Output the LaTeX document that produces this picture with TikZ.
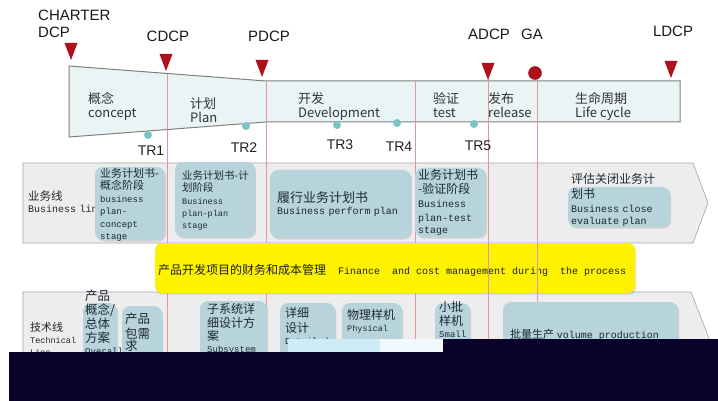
\documentclass[tikz,border=0pt]{standalone}
\usepackage{fontspec}
\setmainfont{Liberation Sans}
\setmonofont{Liberation Mono}
\newfontfamily\cjk{Noto Sans CJK SC}
\usetikzlibrary{shadows}
\setlength{\parindent}{0pt}
\lineskiplimit=-20pt
\definecolor{dcpred}{RGB}{176,16,26}
\definecolor{phasefill}{RGB}{233,244,245}
\definecolor{gateline}{RGB}{226,150,158}
\definecolor{trteal}{RGB}{122,196,196}
\definecolor{bandfill}{RGB}{237,237,237}
\definecolor{boxfill}{RGB}{183,211,220}
\definecolor{boxtext}{RGB}{28,40,52}
\definecolor{glitch}{RGB}{10,2,42}
\newcommand{\zhf}[2]{\cjk\fontsize{#1}{#2}\selectfont}
\newcommand{\enf}[2]{\ttfamily\fontsize{#1}{#2}\selectfont}

\begin{document}
\begin{tikzpicture}[x=1pt, y=-1pt,
    band/.style={draw=black!35, fill=bandfill, line width=0.6pt},
    gate/.style={draw=gateline, line width=0.6pt},
    bizbox/.style={rounded corners=8pt, fill=boxfill, inner sep=0pt,
      drop shadow={shadow xshift=1.2pt, shadow yshift=-1.5pt, opacity=0.25}},
    costbox/.style={rounded corners=7pt, fill=yellow, inner sep=0pt,
      drop shadow={shadow xshift=1pt, shadow yshift=-1.5pt, opacity=0.25}},
    boxtxt/.style={anchor=north west, inner sep=0pt, align=left, text width=160pt, text=boxtext},
    phase/.style={anchor=north west, inner sep=0pt, align=left, text=black!80,
      font=\zhf{13}{14.5}},
    dcplabel/.style={inner sep=0pt, text=black!90, font=\fontsize{15}{17.5}\selectfont},
    trdot/.style={circle, fill=trteal, minimum size=8pt, inner sep=0pt},
    trlabel/.style={inner sep=0pt, text=black!88, font=\fontsize{14}{16}\selectfont},
    gadot/.style={circle, fill=dcpred, draw=dcpred!70!black, minimum size=13pt, inner sep=0pt}]

    \fill [white] (0,0) rectangle (718,401);
    \useasboundingbox (0,0) rectangle (718,401);

    \draw [band] (23,163) -- (693,163) -- (708,203) -- (693,243) -- (23,243) -- cycle;
    \draw [band] (23,292) -- (691,292) -- (712,346) -- (691,400) -- (23,400) -- cycle;

    \draw [draw=black!50, fill=phasefill, line width=1pt]
        (69,66) -- (266,81) -- (680,81) -- (680,122) -- (266,122) -- (69,137) -- cycle;

    \foreach \x/\y in {167/74, 266/81, 415/81}
        \draw [gate] (\x,\y) -- (\x,401);

    \node [costbox, minimum width=480pt, minimum height=50pt] (cost) at (395,268) {};
    \node [anchor=west, inner sep=0pt, text=black!88] (costtxt) at (158,270)
        {{\zhf{12}{14}产品开发项目的财务和成本管理}{\enf{10}{14}~~Finance~~and cost management during~~the process}};

    \foreach \x/\y in {488/79, 537/79}
        \draw [gate] (\x,\y) -- (\x,401);

    \node [phase] (concept) at (88,92) {概念\\concept};
    \node [phase] (plan) at (190,97) {计划\\Plan};
    \node [phase] (develop) at (298,92) {开发\\Development};
    \node [phase] (test) at (433,92) {验证\\test};
    \node [phase] (release) at (488,92) {发布\\release};
    \node [phase] (life) at (575,92) {生命周期\\Life cycle};

    \node [boxtxt, text=black!85] (bizline) at (28,190.5)
        {\zhf{11.5}{16}业务线\\\enf{10}{16}Business line};
    \node [boxtxt, text=black!85] (techline) at (30,322)
        {\zhf{11}{12}技术线\\\enf{8.5}{12}Technical\\Line};

    \node [bizbox, minimum width=70pt, minimum height=73pt] (bpconcept) at (130,203.5) {};
    \node [bizbox, minimum width=80pt, minimum height=75pt] (bpplan) at (215,199.5) {};
    \node [bizbox, minimum width=141pt, minimum height=68pt] (bpperform) at (340.5,204) {};
    \node [bizbox, minimum width=71pt, minimum height=69pt] (bptest) at (450.5,202.5) {};
    \node [bizbox, minimum width=102pt, minimum height=40pt] (bpclose) at (619,207) {};

    \node [boxtxt] (bpconcepttxt) at (100,168)
        {\zhf{11}{12.5}业务计划书-\\概念阶段\\\enf{9}{12.5}business\\plan-\\concept\\stage};
    \node [boxtxt] (bpplantxt) at (182,170)
        {\zhf{10.5}{12.5}业务计划书-计\\划阶段\\\enf{8.5}{12.5}Business\\plan-plan\\stage};
    \node [boxtxt] (bpperformtxt) at (277,191)
        {\zhf{13}{15}履行业务计划书\\\enf{10}{15}Business perform plan};
    \node [boxtxt] (bptesttxt) at (418,169.5)
        {\zhf{12}{14}业务计划书\\-验证阶段\\\enf{10}{14}Business\\plan-test\\stage};
    \node [boxtxt] (bpclosetxt) at (571,173.5)
        {\zhf{12}{14.5}评估关闭业务计\\划书\\\enf{10}{14.5}Business close\\evaluate plan};

    \node [bizbox, minimum width=34pt, minimum height=97pt] (tconcept) at (100,351.5) {};
    \node [bizbox, minimum width=40pt, minimum height=94pt] (treq) at (142,353) {};
    \node [bizbox, minimum width=67pt, minimum height=99pt] (tsub) at (233.5,350.5) {};
    \node [bizbox, minimum width=55pt, minimum height=97pt] (tdetail) at (307.5,351.5) {};
    \node [bizbox, minimum width=60pt, minimum height=97pt] (tproto) at (372,351.5) {};
    \node [bizbox, minimum width=35pt, minimum height=97pt] (tbatch) at (452.5,351.5) {};
    \node [bizbox, minimum width=175pt, minimum height=98pt] (tvolume) at (590.5,351) {};

    \node [boxtxt] (tconcepttxt) at (85,290)
        {\zhf{12.5}{14}产品\\概念/\\总体\\方案\\\enf{9}{14}Overall};
    \node [boxtxt] (treqtxt) at (125,313)
        {\zhf{12.5}{14.5}产品\\包需\\求};
    \node [boxtxt] (tsubtxt) at (207,303.5)
        {\zhf{12}{13.5}子系统详\\细设计方\\案\\\enf{9}{13.5}Subsystem};
    \node [boxtxt] (tdetailtxt) at (285,307.5)
        {\zhf{12}{15}详细\\设计\\\enf{9}{15}Detailed};
    \node [boxtxt] (tprototxt) at (347,309.5)
        {\zhf{12}{16.5}物理样机\\\enf{8.5}{16.5}Physical};
    \node [boxtxt] (tbatchtxt) at (439,301.5)
        {\zhf{12}{14}小批\\样机\\\enf{9}{14}Small};
    \node [anchor=west, inner sep=0pt, text=boxtext] (tvolumetxt) at (510,335)
        {{\zhf{11}{13}批量生产} {\enf{10}{13}volume production}};

    \foreach \x/\y in {71/43, 166/54, 262/60, 488/63, 671/61}
        \fill [dcpred] (\x-6.5,\y) -- (\x+6.5,\y) -- (\x,\y+17) -- cycle;
    \node [gadot] (ga) at (535,73) {};

    \node [dcplabel, anchor=north west, align=left] (charter) at (38,9.5) {CHARTER\\DCP};
    \node [dcplabel] (cdcp) at (168,36) {CDCP};
    \node [dcplabel] (pdcp) at (269,36) {PDCP};
    \node [dcplabel] (adcp) at (489,34) {ADCP};
    \node [dcplabel] (galabel) at (532,34) {GA};
    \node [dcplabel] (ldcp) at (673,31) {LDCP};

    \foreach \n/\dx/\dy/\lx/\ly in {1/148/135/151/151, 2/246/126/244/148,
        3/337/125/340/145, 4/397/123/399/147, 5/474/124/478/146} {
        \node [trdot] (tr\n) at (\dx,\dy) {};
        \node [trlabel] (trl\n) at (\lx,\ly) {TR\n};
    }

    \fill [black!10!cyan!20] (288,339) rectangle (380,352);
    \fill [cyan!6] (380,339) rectangle (443,352);
    \fill [glitch] (443,339) rectangle (718,352);
    \fill [glitch] (9,352) rectangle (718,401);
\end{tikzpicture}
\end{document}
